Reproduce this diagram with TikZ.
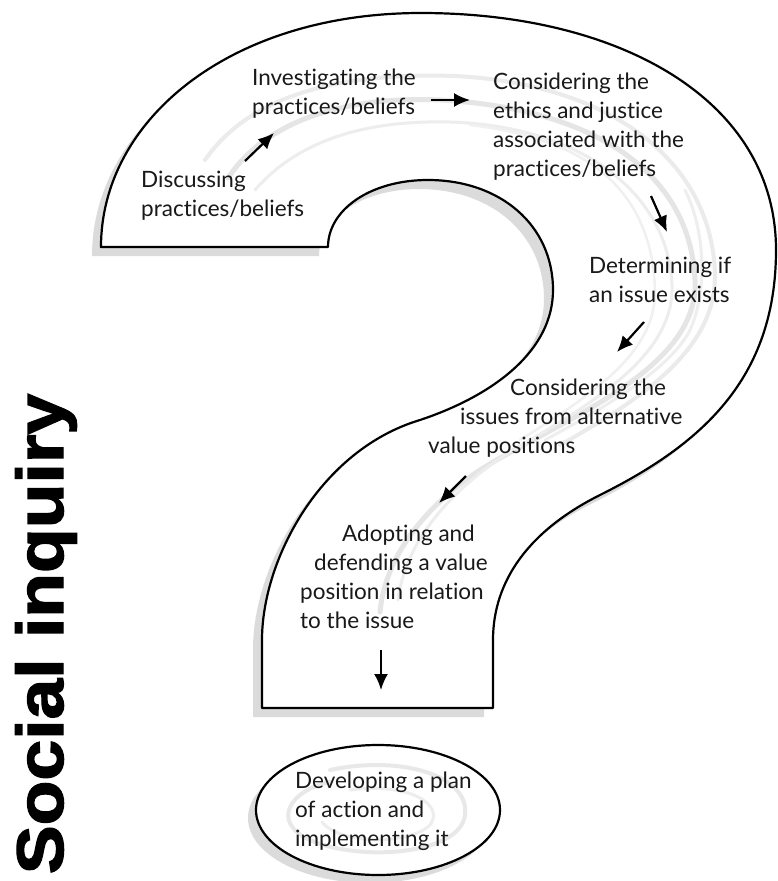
\documentclass[tikz,border=0pt]{standalone}
\usepackage{fontspec}
\setmainfont[Ligatures=NoCommon]{Lato}
\newfontfamily\titlefont[BoldFeatures={FakeBold=2}]{Liberation Sans}
\usetikzlibrary{arrows.meta}

% outline of the question mark (1 unit = 1 px of the sketch)
\newcommand\qmarkoutline{(101,247) -- (328,247)
  .. controls (328,210) and (370,180) .. (428,180)
  .. controls (500,180) and (553,225) .. (553,290)
  .. controls (553,350) and (495,395) .. (420,420)
  .. controls (320,450) and (262,560) .. (262,640)
  -- (262,708) -- (493,708) -- (493,640)
  .. controls (493,580) and (530,530) .. (600,495)
  .. controls (700,445) and (776,380) .. (776,250)
  .. controls (776,100) and (620,13) .. (421,13)
  .. controls (230,13) and (101,120) .. (101,247) -- cycle}

\tikzset{
  stage/.style={font=\fontsize{22.5}{29}\selectfont, text=black!90, inner sep=0pt, align=left},
  flow/.style={line width=2.2pt, -{Latex[length=16pt,width=14pt]}},
  swirl/.style={gray!20, line width=5pt, line cap=round},
  outline/.style={line width=2.2pt, line join=round},
}

\begin{document}
\begin{tikzpicture}[x=1pt,y=-1pt]
  \useasboundingbox[fill=white] (0,0) rectangle (777,881);

  % shadow and body
  \fill[gray!28, shift={(-9,9)}] \qmarkoutline;
  \filldraw[fill=white, outline] \qmarkoutline;

  % swirls along the path
  \draw[swirl] (228,178) .. controls (268,118) and (350,96) .. (440,100)
    .. controls (590,108) and (690,170) .. (695,280)
    .. controls (700,370) and (560,420) .. (480,470)
    .. controls (420,510) and (385,560) .. (380,612);
  \draw[swirl, gray!14, line width=3pt] (255,190) .. controls (300,138) and (370,120) .. (450,122)
    .. controls (580,126) and (668,192) .. (672,285)
    .. controls (675,360) and (580,410) .. (505,455)
    .. controls (445,495) and (405,545) .. (398,600);
  \draw[swirl, gray!16, line width=4pt] (205,160) .. controls (250,95) and (340,72) .. (455,76)
    .. controls (610,84) and (712,160) .. (715,275)
    .. controls (716,350) and (640,400) .. (560,445);
  \draw[swirl, gray!12, line width=2.5pt] (470,125) .. controls (600,140) and (652,200) .. (655,290)
    .. controls (656,350) and (600,390) .. (520,440);
  \draw[swirl, gray!13, line width=3pt] (685,190) .. controls (705,230) and (708,290) .. (690,330)
    .. controls (670,370) and (600,410) .. (545,440);

  % final step
  \fill[gray!28] (370,818) ellipse (122 and 65);
  \filldraw[fill=white, outline] (378,810) ellipse (122 and 65);
  \draw[swirl, gray!18, line width=4pt] (330,770) .. controls (400,755) and (470,775) .. (465,815)
    .. controls (460,855) and (360,862) .. (310,840)
    .. controls (270,822) and (290,790) .. (330,782);
  \draw[swirl, gray!14, line width=3pt] (350,790) .. controls (410,782) and (445,805) .. (430,825)
    .. controls (410,845) and (340,845) .. (322,822);

  % stages
  \node[stage, anchor=west] (discuss) at (141,196) {Discussing\\practices/beliefs};
  \node[stage, anchor=west] (invest) at (252,94) {Investigating the\\practices/beliefs};
  \node[stage, anchor=west] (ethics) at (493,127)
    {Considering the\\ethics and justice\\associated with the\\practices/beliefs};
  \node[stage, anchor=west] (exists) at (589,280) {Determining if\\an issue exists};
  \node[stage, anchor=west] (values) at (428,418)
    {\hspace*{82pt}Considering the\\\hspace*{32pt}issues from alternative\\value positions};
  \node[stage, anchor=west] (adopt) at (300,577)
    {\hspace*{42pt}Adopting and\\\hspace*{14pt}defending a value\\position in relation\\to the issue};
  \node[stage, anchor=west] (plan) at (295,811)
    {Developing a plan\\of action and\\implementing it};

  % arrows between the stages
  \coordinate (a1) at (245,161);  \coordinate (b1) at (274,133);
  \coordinate (a2) at (431,100);  \coordinate (b2) at (470,100);
  \coordinate (a3) at (651,196);  \coordinate (b3) at (667,232);
  \coordinate (a4) at (644,322);  \coordinate (b4) at (617,352);
  \coordinate (a5) at (466,476);  \coordinate (b5) at (439,503);
  \coordinate (a6) at (381,650);  \coordinate (b6) at (381,690);
  \foreach \i in {1,...,6}
    \draw[flow] (a\i) -- (b\i);

  % title
  \node[rotate=90, anchor=base, inner sep=0pt] (title) at (63,634)
    {\titlefont\bfseries\fontsize{66}{66}\selectfont\scalebox{1.11}[1]{Social inquiry}};
\end{tikzpicture}
\end{document}
